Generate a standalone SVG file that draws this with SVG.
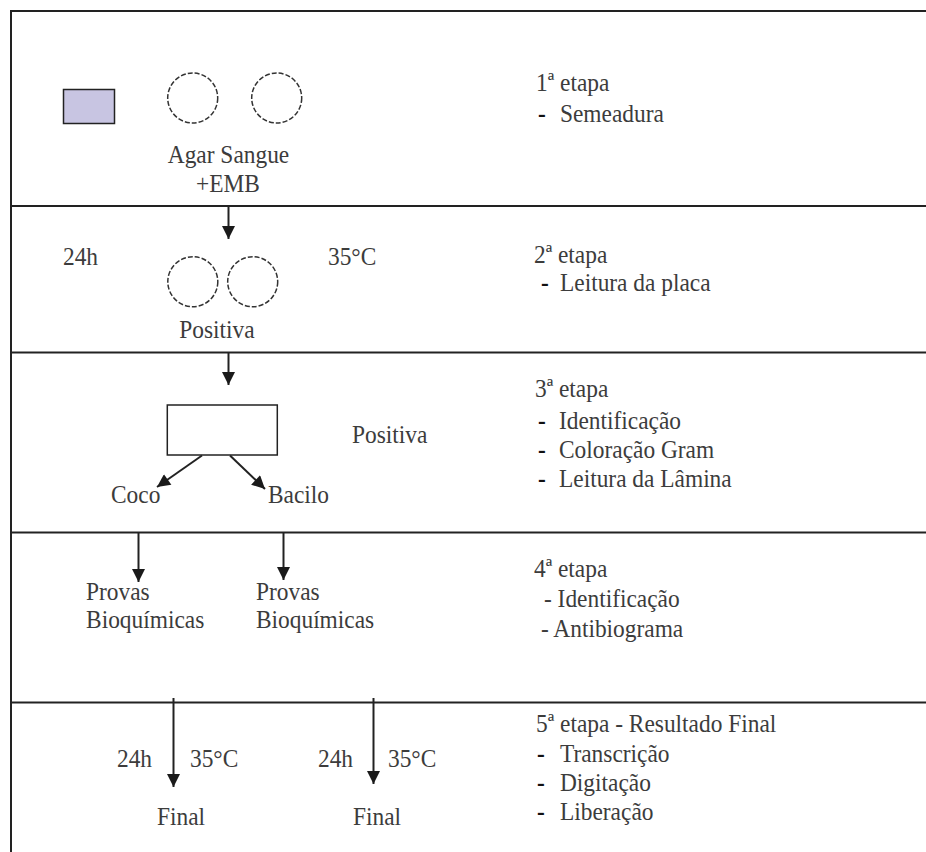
<svg xmlns="http://www.w3.org/2000/svg" width="926" height="852" viewBox="0 0 926 852">
  <style>
    .frame { stroke: #222; stroke-width: 2; fill: none; }
    /* narrow serif face: glyphs are squeezed horizontally, so x values are given in the squeezed space (x / 0.9) */
    .t, .dash { font-family: "Liberation Serif", "Times New Roman", serif; font-size: 26px; transform: scale(0.9, 1); }
    .t { fill: #3c3c3c; }
    .dash { fill: #111; font-weight: bold; }
    .plate { fill: none; stroke: #333; stroke-width: 1.5; stroke-dasharray: 5 2; }
    .box { fill: #fff; stroke: #222; stroke-width: 1.5; }
    .arrow { stroke: #222; stroke-width: 2; fill: none; marker-end: url(#head); }
  </style>
  <defs>
    <marker id="head" viewBox="0 0 10 10" refX="10" refY="5" markerWidth="14" markerHeight="13" markerUnits="userSpaceOnUse" orient="auto">
      <path d="M0,0 L10,5 L0,10 z" fill="#1a1a1a"/>
    </marker>
  </defs>
  <rect width="926" height="852" fill="#fff"/>

  <!-- frame and stage dividers -->
  <g id="frame">
    <line class="frame" x1="11" y1="11" x2="11" y2="852"/>
    <line class="frame" x1="10" y1="11" x2="926" y2="11"/>
    <line class="frame" x1="11" y1="206" x2="926" y2="206"/>
    <line class="frame" x1="11" y1="352.5" x2="926" y2="352.5"/>
    <line class="frame" x1="11" y1="532.5" x2="926" y2="532.5"/>
    <line class="frame" x1="11" y1="702.5" x2="926" y2="702.5"/>
  </g>

  <!-- stage 1 -->
  <g id="sample">
    <rect x="63.5" y="89.5" width="51" height="34" fill="#c8c5e2" stroke="#222" stroke-width="1.5"/>
  </g>
  <g id="plates1">
    <circle class="plate" cx="192.7" cy="98" r="25"/>
    <circle class="plate" cx="276.7" cy="98" r="25"/>
    <text class="t" x="253.9" y="163" text-anchor="middle">Agar Sangue</text>
    <text class="t" x="253.3" y="192" text-anchor="middle">+EMB</text>
  </g>
  <g id="stage1">
    <text class="t" x="595.6" y="91">1ª etapa</text>
    <text class="dash" x="597.8" y="122">-</text>
    <text class="t" x="622.2" y="122">Semeadura</text>
  </g>

  <!-- stage 2 -->
  <g id="incubation1">
    <text class="t" x="70" y="265">24h</text>
    <text class="t" x="364.4" y="265">35°C</text>
  </g>
  <g id="plates2">
    <circle class="plate" cx="192.8" cy="281.7" r="25"/>
    <circle class="plate" cx="252.7" cy="281.7" r="25"/>
    <text class="t" x="241.1" y="338" text-anchor="middle">Positiva</text>
  </g>
  <g id="stage2">
    <text class="t" x="593.3" y="263">2ª etapa</text>
    <text class="dash" x="601.1" y="291">-</text>
    <text class="t" x="622.2" y="291">Leitura da placa</text>
  </g>

  <!-- stage 3 -->
  <g id="slide">
    <rect class="box" x="167.3" y="405" width="110" height="50"/>
    <text class="t" x="391.1" y="443">Positiva</text>
  </g>
  <g id="coco">
    <text class="t" x="123.3" y="503">Coco</text>
  </g>
  <g id="bacilo">
    <text class="t" x="297.8" y="503">Bacilo</text>
  </g>
  <g id="stage3">
    <text class="t" x="594.4" y="397">3ª etapa</text>
    <text class="dash" x="597.8" y="429">-</text>
    <text class="t" x="621.1" y="429">Identificação</text>
    <text class="dash" x="597.8" y="458">-</text>
    <text class="t" x="621.1" y="458">Coloração Gram</text>
    <text class="dash" x="597.8" y="487">-</text>
    <text class="t" x="621.1" y="487">Leitura da Lâmina</text>
  </g>

  <!-- stage 4 -->
  <g id="provas1">
    <text class="t" x="95.6" y="600">Provas</text>
    <text class="t" x="95.6" y="628">Bioquímicas</text>
  </g>
  <g id="provas2">
    <text class="t" x="284.4" y="600">Provas</text>
    <text class="t" x="284.4" y="628">Bioquímicas</text>
  </g>
  <g id="stage4">
    <text class="t" x="593.3" y="577">4ª etapa</text>
    <text class="t" x="604.4" y="607">- Identificação</text>
    <text class="t" x="601.1" y="637">- Antibiograma</text>
  </g>

  <!-- stage 5 -->
  <g id="final1">
    <text class="t" x="130" y="767">24h</text>
    <text class="t" x="211.1" y="767">35°C</text>
    <text class="t" x="174.4" y="825">Final</text>
  </g>
  <g id="final2">
    <text class="t" x="353.3" y="767">24h</text>
    <text class="t" x="431.1" y="767">35°C</text>
    <text class="t" x="392.2" y="825">Final</text>
  </g>
  <g id="stage5">
    <text class="t" x="595.6" y="732">5ª etapa - Resultado Final</text>
    <text class="dash" x="596.7" y="762">-</text>
    <text class="t" x="622.2" y="762">Transcrição</text>
    <text class="dash" x="596.7" y="791">-</text>
    <text class="t" x="622.2" y="791">Digitação</text>
    <text class="dash" x="596.7" y="820">-</text>
    <text class="t" x="622.2" y="820">Liberação</text>
  </g>

  <!-- connectors -->
  <g id="connectors">
    <line class="arrow" x1="228.5" y1="206" x2="228.5" y2="239"/>
    <line class="arrow" x1="228.5" y1="352" x2="228.5" y2="385"/>
    <line class="arrow" x1="202" y1="455.5" x2="157" y2="487"/>
    <line class="arrow" x1="230" y1="455.5" x2="265" y2="489"/>
    <line class="arrow" x1="138.5" y1="532" x2="138.5" y2="582"/>
    <line class="arrow" x1="283.5" y1="532" x2="283.5" y2="580"/>
    <line class="arrow" x1="173.5" y1="698" x2="173.5" y2="787"/>
    <line class="arrow" x1="373.5" y1="698" x2="373.5" y2="784"/>
  </g>
</svg>
